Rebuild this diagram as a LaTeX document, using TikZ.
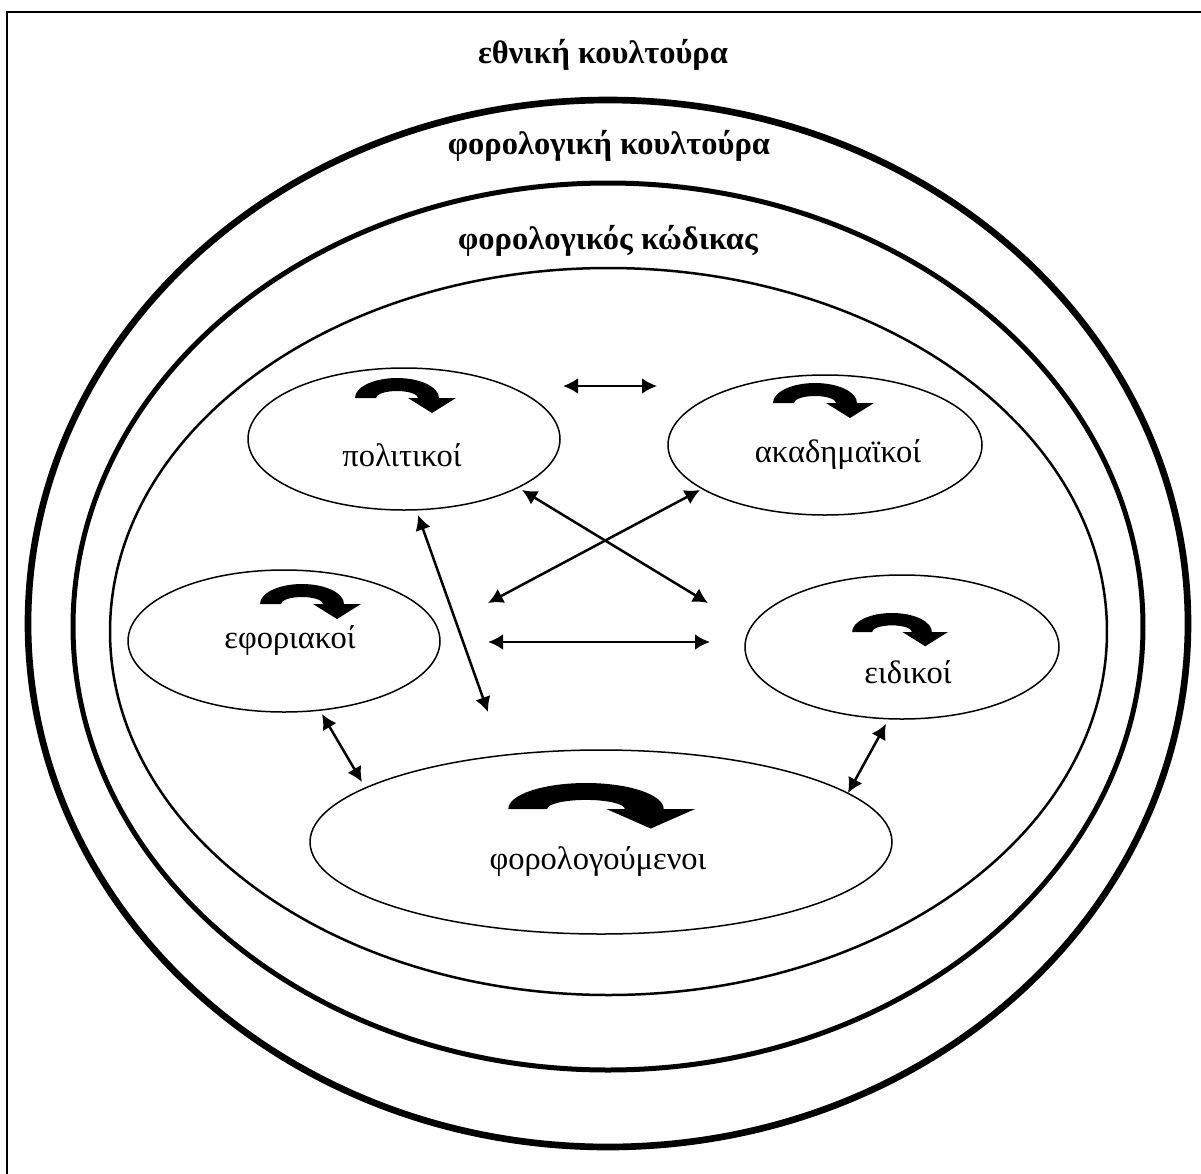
\documentclass[tikz,border=0pt]{standalone}
\usepackage{fontspec}
\setmainfont{Liberation Serif}
\usetikzlibrary{arrows.meta,shapes.geometric}
\begin{document}
\begin{tikzpicture}[x=0.6pt,y=-0.6pt,
  lbl/.style={font=\fontsize{19.5}{22}\selectfont, inner sep=0},
  hd/.style={font=\fontsize{19.5}{22}\selectfont\bfseries, inner sep=0},
  ring/.style 2 args={draw, ellipse, inner sep=0, minimum width=#1*1.2pt, minimum height=#2*1.2pt},
  actor/.style 2 args={draw, line width=0.9pt, ellipse, inner sep=0, minimum width=#1*1.2pt, minimum height=#2*1.2pt},
  dbl/.style={{Latex[length=9pt,width=9.5pt]}-{Latex[length=9pt,width=9.5pt]}, line width=1.5pt},
  pics/curv/.style={code={\fill (-42,0) arc[start angle=180,end angle=360,x radius=42,y radius=20] -- (59,0) -- (35,15) -- (11,0) -- (21,0) arc[start angle=360,end angle=180,x radius=21,y radius=7] -- cycle;}}
]
\useasboundingbox (0,0) rectangle (1201,1174);
\begin{scope}
\clip (0,0) rectangle (1201,1174);
\draw[line width=1.5pt] (7,12) rectangle (1220,1200);
\end{scope}

% concentric rings
\node[ring={580}{523.5}, line width=4pt] (nat) at (608,623.5) {};
\node[ring={535}{443.5}, line width=3pt] (taxcult) at (608,626.5) {};
\node[ring={498.5}{363.5}, line width=1.5pt] (code) at (608.5,631.5) {};

\node[hd] (natl) at (603,55) {εθνική κουλτούρα};
\node[hd] (taxcultl) at (609,146) {φορολογική κουλτούρα};
\node[hd] (codel) at (608,241) {φορολογικός κώδικας};

% actors
\node[actor={156}{71}] (pol) at (404,439) {};
\node[actor={157}{70}] (aka) at (825,445) {};
\node[actor={156}{71}] (efo) at (284,641) {};
\node[actor={157}{72}] (eid) at (902,647) {};
\node[actor={291}{92}] (fom) at (601,842) {};

\node[lbl] (poll) at (402,455) {πολιτικοί};
\node[lbl] (akal) at (838,455) {ακαδημαϊκοί};
\node[lbl] (efol) at (290,640) {εφοριακοί};
\node[lbl] (eidl) at (908,672) {ειδικοί};
\node[lbl] (foml) at (598,862) {φορολογούμενοι};

\pic at (397,398) {curv};
\pic at (815,403) {curv};
\pic at (302,604) {curv};
\pic[scale=0.95] at (892,632) {curv};
\pic[xscale=1.85,yscale=1.3] at (586,809) {curv};

% connector end points
\coordinate (pa) at (563,386);
\coordinate (ap) at (657,386);
\coordinate (pe) at (522,490);
\coordinate (ep) at (708,603);
\coordinate (ac) at (700,490);
\coordinate (ca) at (488,603);
\coordinate (ml) at (488,642);
\coordinate (mr) at (710,642);
\coordinate (pf) at (418,515);
\coordinate (fp) at (488,712);
\coordinate (ef) at (322,714);
\coordinate (fe) at (362,782);
\coordinate (df) at (886,724);
\coordinate (fd) at (848,793);

\draw[dbl] (pa) -- (ap);
\draw[dbl] (pe) -- (ep);
\draw[dbl] (ac) -- (ca);
\draw[dbl] (ml) -- (mr);
\draw[dbl] (pf) -- (fp);
\draw[dbl] (ef) -- (fe);
\draw[dbl] (df) -- (fd);
\end{tikzpicture}
\end{document}
